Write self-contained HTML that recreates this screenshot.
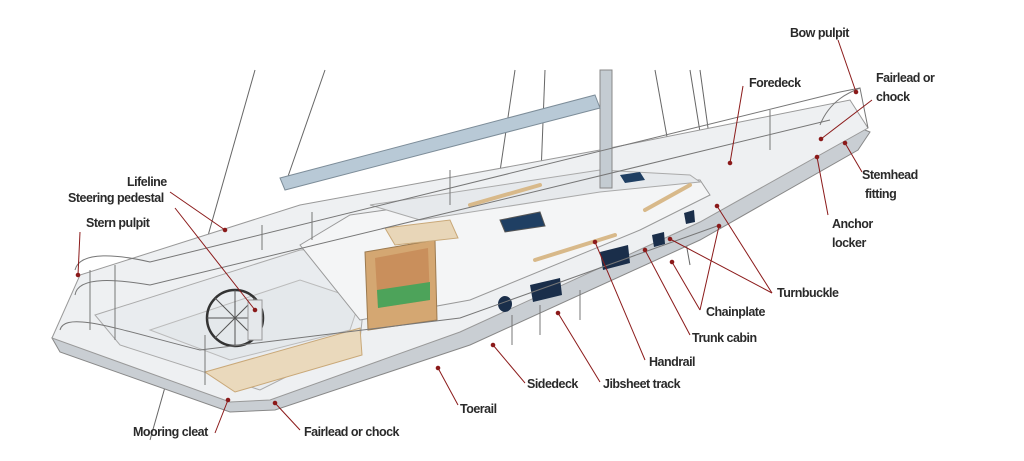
<!DOCTYPE html>
<html><head><meta charset="utf-8"><style>
html,body{margin:0;padding:0;background:#fff;width:1024px;height:461px;overflow:hidden}
svg text{font-family:"Liberation Sans",sans-serif;font-weight:bold;font-size:12.5px;fill:#2a2a2a;letter-spacing:-0.5px}
</style></head><body>
<svg width="1024" height="461" viewBox="0 0 1024 461" xmlns="http://www.w3.org/2000/svg">
<g stroke="#666" stroke-width="1" fill="none">
<line x1="255" y1="70" x2="150" y2="440"/>
<line x1="325" y1="70" x2="285" y2="185"/>
<line x1="515" y1="70" x2="495" y2="205"/>
<line x1="545" y1="70" x2="540" y2="200"/>
<line x1="655" y1="70" x2="690" y2="265"/>
<line x1="690" y1="70" x2="715" y2="225"/>
<line x1="700" y1="70" x2="720" y2="215"/>
</g>
<path d="M52,338 L60,352 L230,412 L275,410 L470,345 L700,240 L858,150 L870,132 L860,128 L700,220 L460,330 L270,398 L230,400 L60,338Z" fill="#c9ced3" stroke="#888" stroke-width="1"/>
<path d="M52,338 L80,275 L300,205 L600,150 L850,100 L868,128 L700,222 L460,332 L270,400 L230,402 Z" fill="#eef0f2" stroke="#999" stroke-width="1"/>
<path d="M95,315 L300,250 L370,245 L360,340 L260,390 L120,345Z" fill="#e9ecef" stroke="#aaa"/>
<path d="M150,330 L300,280 L360,300 L350,330 L230,360Z" fill="#e4e8eb" stroke="#bbb"/>
<path d="M205,372 L360,328 L362,355 L235,392Z" fill="#ead9bc" stroke="#c9a878"/>
<path d="M300,245 L350,215 L600,180 L700,180 L710,195 L640,230 L470,300 L360,320 Z" fill="#f4f5f6" stroke="#999"/>
<path d="M370,205 L600,170 L690,175 L700,182 L600,192 L420,220Z" fill="#e6e9ec" stroke="#aaa"/>
<path d="M365,252 L435,240 L437,320 L368,330Z" fill="#d4a772" stroke="#9b7a50"/>
<path d="M375,258 L428,248 L430,300 L378,308Z" fill="#c98f5c"/>
<path d="M377,290 L430,282 L430,300 L378,308Z" fill="#4da35a"/>
<path d="M385,228 L450,220 L458,238 L395,245Z" fill="#e8d6b8" stroke="#c9a878"/>
<path d="M500,220 L540,212 L545,226 L505,232Z" fill="#1f3f63" stroke="#555"/>
<path d="M620,175 L640,172 L645,180 L625,183Z" fill="#1f3f63"/>
<ellipse cx="505" cy="304" rx="7" ry="8" fill="#1a2e4a"/>
<path d="M530,285 L560,278 L562,295 L533,302Z" fill="#1a2e4a"/>
<path d="M600,252 L628,245 L630,263 L603,270Z" fill="#1a2e4a"/>
<path d="M652,235 L664,232 L665,244 L654,247Z" fill="#1a2e4a"/>
<path d="M684,213 L694,210 L695,222 L686,224Z" fill="#1a2e4a"/>
<g stroke="#d8b98a" stroke-width="4" stroke-linecap="round">
<line x1="535" y1="260" x2="615" y2="235"/>
<line x1="645" y1="210" x2="690" y2="185"/>
<line x1="470" y1="205" x2="540" y2="185"/>
</g>
<rect x="600" y="70" width="12" height="118" fill="#c4ccd2" stroke="#888"/>
<path d="M280,178 L595,95 L600,108 L285,190Z" fill="#b8c9d6" stroke="#7d8d99"/>
<circle cx="235" cy="318" r="28" fill="none" stroke="#333" stroke-width="2.5"/>
<g stroke="#555" stroke-width="1"><line x1="235" y1="290" x2="235" y2="346"/><line x1="207" y1="318" x2="263" y2="318"/><line x1="215" y1="298" x2="255" y2="338"/><line x1="215" y1="338" x2="255" y2="298"/></g>
<rect x="248" y="300" width="14" height="40" fill="#e5e8eb" stroke="#999"/>
<g stroke="#777" stroke-width="1" fill="none">
<path d="M75,270 C80,250 120,255 150,262 L840,92 L860,88"/>
<path d="M75,295 C78,275 120,280 150,285 L830,120"/>
<path d="M60,330 C65,310 120,330 200,350 L460,318 L720,225"/>
<line x1="90" y1="270" x2="90" y2="330"/>
<line x1="115" y1="265" x2="115" y2="340"/>
<line x1="205" y1="335" x2="205" y2="385"/>
<line x1="262" y1="225" x2="262" y2="250"/>
<line x1="312" y1="212" x2="312" y2="240"/>
<line x1="450" y1="170" x2="450" y2="205"/>
<line x1="770" y1="110" x2="770" y2="150"/>
<line x1="512" y1="315" x2="512" y2="345"/>
<line x1="540" y1="305" x2="540" y2="335"/>
<line x1="580" y1="290" x2="580" y2="320"/>
<path d="M820,125 C830,100 850,92 860,88 L868,128"/>
</g>
<g stroke="#8b1a1a" stroke-width="1" fill="#8b1a1a">
<line x1="838" y1="40" x2="856" y2="92"/><circle cx="856" cy="92" r="1.8"/>
<line x1="872" y1="100" x2="821" y2="139"/><circle cx="821" cy="139" r="1.8"/>
<line x1="743" y1="86" x2="730" y2="163"/><circle cx="730" cy="163" r="1.8"/>
<line x1="862" y1="172" x2="845" y2="143"/><circle cx="845" cy="143" r="1.8"/>
<line x1="828" y1="215" x2="817" y2="157"/><circle cx="817" cy="157" r="1.8"/>
<line x1="170" y1="192" x2="225" y2="230"/><circle cx="225" cy="230" r="1.8"/>
<line x1="175" y1="208" x2="255" y2="310"/><circle cx="255" cy="310" r="1.8"/>
<line x1="80" y1="232" x2="78" y2="275"/><circle cx="78" cy="275" r="1.8"/>
<line x1="772" y1="293" x2="717" y2="206"/><circle cx="717" cy="206" r="1.8"/>
<line x1="772" y1="293" x2="670" y2="239"/><circle cx="670" cy="239" r="1.8"/>
<line x1="700" y1="310" x2="719" y2="226"/><circle cx="719" cy="226" r="1.8"/>
<line x1="700" y1="310" x2="672" y2="262"/><circle cx="672" cy="262" r="1.8"/>
<line x1="690" y1="335" x2="645" y2="250"/><circle cx="645" cy="250" r="1.8"/>
<line x1="645" y1="360" x2="595" y2="242"/><circle cx="595" cy="242" r="1.8"/>
<line x1="600" y1="382" x2="558" y2="313"/><circle cx="558" cy="313" r="1.8"/>
<line x1="525" y1="383" x2="493" y2="345"/><circle cx="493" cy="345" r="1.8"/>
<line x1="458" y1="405" x2="438" y2="368"/><circle cx="438" cy="368" r="1.8"/>
<line x1="215" y1="433" x2="228" y2="400"/><circle cx="228" cy="400" r="1.8"/>
<line x1="300" y1="430" x2="275" y2="403"/><circle cx="275" cy="403" r="1.8"/>
</g>
<text x="790" y="37">Bow pulpit</text>
<text x="876" y="82">Fairlead or</text>
<text x="876" y="101">chock</text>
<text x="749" y="87">Foredeck</text>
<text x="862" y="179">Stemhead</text>
<text x="865" y="198">fitting</text>
<text x="832" y="228">Anchor</text>
<text x="832" y="247">locker</text>
<text x="127" y="186">Lifeline</text>
<text x="68" y="202">Steering pedestal</text>
<text x="86" y="227">Stern pulpit</text>
<text x="777" y="297">Turnbuckle</text>
<text x="706" y="316">Chainplate</text>
<text x="692" y="342">Trunk cabin</text>
<text x="649" y="366">Handrail</text>
<text x="527" y="388">Sidedeck</text>
<text x="603" y="388">Jibsheet track</text>
<text x="460" y="413">Toerail</text>
<text x="133" y="436">Mooring cleat</text>
<text x="304" y="436">Fairlead or chock</text>
</svg>
</body></html>
